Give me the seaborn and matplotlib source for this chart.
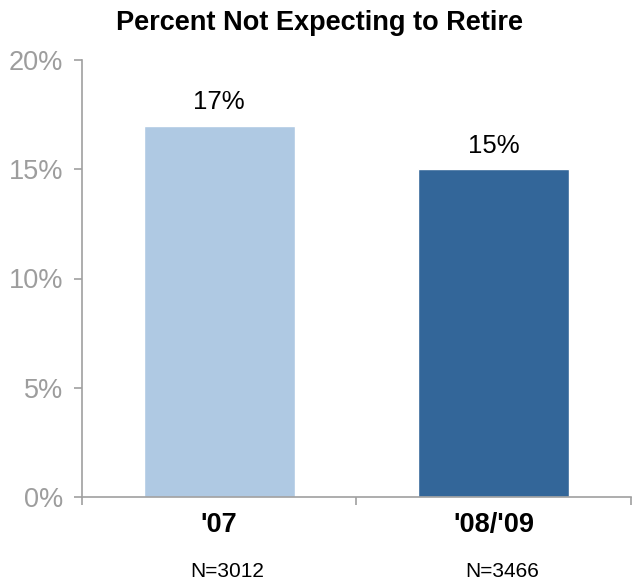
import matplotlib

matplotlib.use("Agg")
import matplotlib.pyplot as plt
import matplotlib.transforms as mtransforms
import pandas as pd
import seaborn as sns

# data
periods = ["'07", "'08/'09"]
pct_not_retiring = [17, 15]
sample_sizes = ["N=3012", "N=3466"]
bar_colors = ["#afc9e3", "#336699"]
y_ticks = [0, 5, 10, 15, 20]

sns.set_style("ticks")
plt.rcParams["font.family"] = ["Liberation Sans", "DejaVu Sans"]
plt.rcParams["text.color"] = "black"

df = pd.DataFrame({"period": periods, "pct": pct_not_retiring})

fig = plt.figure(figsize=(6.33, 5.88), dpi=100)
ax = fig.add_axes([82 / 633, 91 / 588, 549 / 633, 437 / 588])

sns.barplot(
    data=df,
    x="period",
    y="pct",
    hue="period",
    palette=bar_colors,
    saturation=1,
    width=0.55,
    legend=False,
    ax=ax,
)

for container in ax.containers:
    ax.bar_label(container, fmt="%d%%", padding=8, fontsize=18.5, color="black")

grey = "#a0a0a0"
ax.set_ylim(0, 20)
ax.set_xlim(-0.5, 1.5)
ax.set_yticks(y_ticks)
ax.set_yticklabels([f"{t}%" for t in y_ticks])
ax.tick_params(axis="y", colors=grey, labelcolor="#9d9d9d", labelsize=19.5,
               length=5.5, width=1.2, pad=8)

# category labels are centred on the bars, tick marks sit at the boundaries
ax.set_xticks([0, 1])
ax.set_xticklabels(periods, fontweight="bold", fontsize=19.5, color="black")
ax.tick_params(axis="x", length=0, pad=11)
ax.set_xticks([-0.5, 0.5, 1.5], minor=True)
ax.tick_params(axis="x", which="minor", length=5.5, width=1.2, color=grey)

ax.set_xlabel("")
ax.set_ylabel("")
sns.despine(ax=ax, top=True, right=True)
for side in ["left", "bottom"]:
    ax.spines[side].set_color(grey)
    ax.spines[side].set_linewidth(1.2)

trans = mtransforms.blended_transform_factory(ax.transData, fig.transFigure)
for i, n in enumerate(sample_sizes):
    ax.text(i + 0.03, 11 / 588, n, transform=trans, ha="center", va="baseline",
            fontsize=15, color="black")

fig.text(0.505, 1 - 30 / 588, "Percent Not Expecting to Retire",
         ha="center", va="baseline", fontsize=19.5, fontweight="bold",
         color="black")

fig.savefig("out.png", dpi=100)
